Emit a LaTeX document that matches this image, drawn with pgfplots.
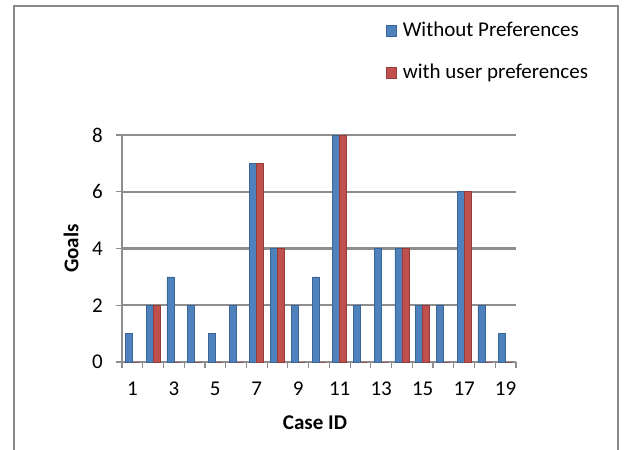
\documentclass[border=0pt]{standalone}
\usepackage{fontspec}
\setmainfont{Carlito}
\usepackage{pgfplots}
\pgfplotsset{compat=1.18}
\usepackage{pgfplotstable}

\definecolor{barblue}{HTML}{4F81BD}
\definecolor{barblueedge}{HTML}{3A6697}
\definecolor{barred}{HTML}{C0504D}
\definecolor{barrededge}{HTML}{943C3A}
\definecolor{gridgray}{HTML}{8E8E8E}
\definecolor{framegray}{HTML}{8A8A8A}

% case, goals without preferences, goals with user preferences
\pgfplotstableread{
case without with
1  1 0
2  2 2
3  3 0
4  2 0
5  1 0
6  2 0
7  7 7
8  4 4
9  2 0
10 3 0
11 8 8
12 2 0
13 4 0
14 4 4
15 2 2
16 2 0
17 6 6
18 2 0
19 1 0
}\goals

\begin{document}
\fontsize{21bp}{25bp}\selectfont
\begin{tikzpicture}
\begin{scope}
  \clip (0,0) rectangle (627bp,450bp);
  \draw[framegray, line width=1.5bp] (14bp,-20bp) rectangle (618bp,444bp);
\end{scope}
\begin{axis}[
    at={(122bp,88bp)}, anchor=south west,
    scale only axis, width=394bp, height=227bp,
    ybar=0pt, bar width=7bp,
    xmin=0.5, xmax=19.5, ymin=0, ymax=8,
    axis x line*=bottom, axis y line*=left,
    axis line style={-, draw=gridgray, line width=1.6bp},
    ymajorgrids=true,
    grid style={draw=gridgray, line width=2.2bp},
    xtick={1,3,...,19},
    minor xtick={0.5,1.5,...,19.5},
    ytick={0,2,4,6,8},
    tick align=outside,
    major x tick style={draw=none},
    minor x tick style={draw=gridgray, line width=1.2bp},
    y tick style={draw=gridgray, line width=1.2bp},
    major tick length=6bp, minor tick length=6bp,
    /pgf/number format/assume math mode=true,
    xticklabel style={inner sep=0pt, yshift=-14bp},
    yticklabel style={inner sep=0pt, xshift=-13bp},
    xlabel={\bfseries Case ID},
    ylabel={\bfseries Goals},
    xlabel style={at={(axis description cs:0.4898,-0.2687)}, anchor=center},
    ylabel style={at={(axis description cs:-0.1294,0.5)}, anchor=center},
    legend style={at={(axis description cs:0.67,1.5066)}, anchor=north west,
      draw=none, fill=none, inner sep=0pt, row sep=20bp,
      nodes={inner sep=2bp},
      /tikz/every odd column/.append style={column sep=4bp}},
    legend cell align=left,
    legend image code/.code={\fill[#1] (0bp,-5.5bp) rectangle (10bp,5.5bp);},
]
\addplot[fill=barblue, draw=barblueedge, line width=0.6bp] table[x=case, y=without] {\goals};
\addplot[fill=barred, draw=barrededge, line width=0.6bp] table[x=case, y=with] {\goals};
\legend{Without Preferences, with user preferences}
\end{axis}
\pgfresetboundingbox
\path[use as bounding box] (0,0) rectangle (627bp,450bp);
\end{tikzpicture}
\end{document}
